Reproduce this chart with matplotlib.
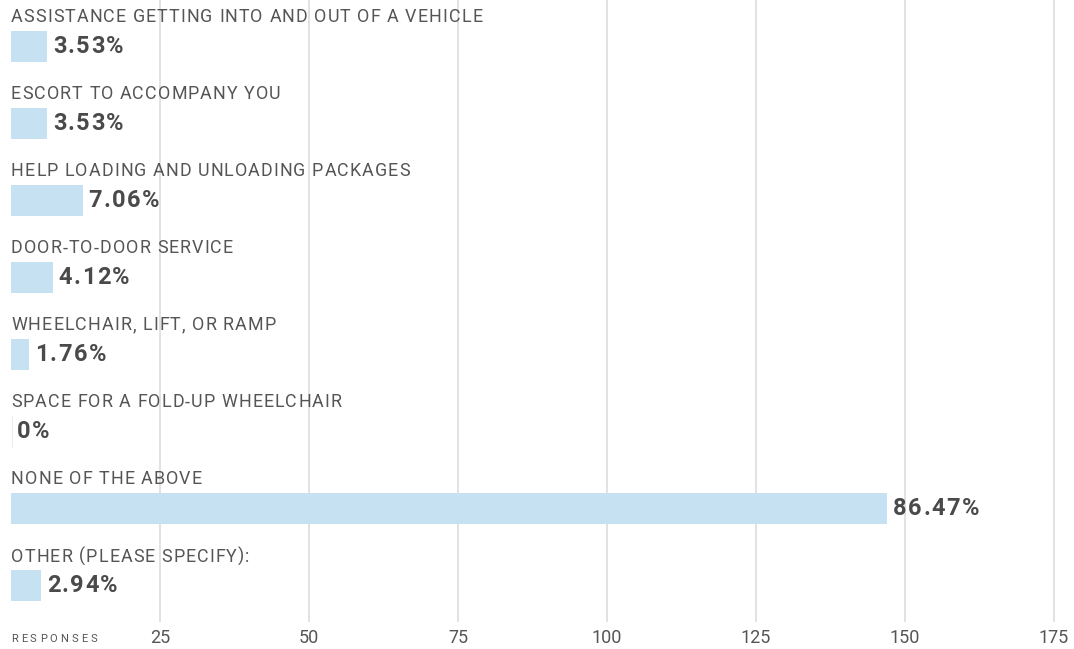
import matplotlib
matplotlib.use("Agg")
import matplotlib.pyplot as plt
from matplotlib.transforms import offset_copy

categories = [
    "ASSISTANCE GETTING INTO AND OUT OF A VEHICLE",
    "ESCORT TO ACCOMPANY YOU",
    "HELP LOADING AND UNLOADING PACKAGES",
    "DOOR-TO-DOOR SERVICE",
    "WHEELCHAIR, LIFT, OR RAMP",
    "SPACE FOR A FOLD-UP WHEELCHAIR",
    "NONE OF THE ABOVE",
    "OTHER (PLEASE SPECIFY):",
]
responses = [6, 6, 12, 7, 3, 0, 147, 5]
percent_labels = ["3.53%", "3.53%", "7.06%", "4.12%", "1.76%", "0%", "86.47%", "2.94%"]
xticks = [25, 50, 75, 100, 125, 150, 175]

W, H, DPI = 1074, 649, 100
fig = plt.figure(figsize=(W / DPI, H / DPI), dpi=DPI)
ax = fig.add_axes([11 / W, 1 - 622 / H, (W - 11) / W, 622 / H])

font = "Roboto"
bar_color = "#c6e1f2"
text_color = "#555555"
val_color = "#4a4a4a"

ax.barh(range(len(categories)), responses, height=0.40, color=bar_color, zorder=2)
ax.set_xlim(0, (W - 11) / 5.96)
ax.set_ylim(7.47, -0.604)

for x in xticks:
    ax.axvline(x, color="#dddddd", lw=1.2, zorder=1)

ax.set_xticks([])
ax.set_yticks([])
for s in ax.spines.values():
    s.set_visible(False)

fig.canvas.draw()
renderer = fig.canvas.get_renderer()


def tracked_text(x, y, s, transform, tracking_px, start_px=0.0, **kw):
    """Draw string with extra letter spacing (in pixels)."""
    off = start_px
    for ch in s:
        tr = offset_copy(transform, fig=fig, x=off * 72 / DPI, y=0, units="points")
        t = ax.text(x, y, ch, transform=tr, ha="left", **kw)
        if ch == " ":
            t2 = ax.text(0, 0, "a a", fontsize=kw.get("fontsize"), family=kw.get("family"))
            t3 = ax.text(0, 0, "aa", fontsize=kw.get("fontsize"), family=kw.get("family"))
            w = t2.get_window_extent(renderer).width - t3.get_window_extent(renderer).width
            t2.remove(); t3.remove()
        else:
            w = t.get_window_extent(renderer).width
        off += w + tracking_px


for i, (cat, v, lab) in enumerate(zip(categories, responses, percent_labels)):
    tracked_text(0, i - 0.38, cat, ax.transData, 1.1, fontsize=12.9, family=font,
                 color=text_color, va="center", clip_on=False)
    if v == 0:
        ax.plot([0.15, 0.15], [i - 0.2, i + 0.2], color="#e6f0f5", lw=1, zorder=2)
    tracked_text(v, i, lab, ax.transData, 1.5, start_px=6, fontsize=17, fontweight="bold",
                 family=font, color=val_color, va="center")

for x in xticks:
    ax.text(x, 7.47, str(x), fontsize=13, family=font,
            color=text_color, ha="center", va="center",
            clip_on=False).set_transform(
        offset_copy(ax.transData, fig=fig, x=0, y=-16 * 72 / DPI, units="points"))

tracked_text(0, 7.47, "RESPONSES", offset_copy(ax.transData, fig=fig, x=0, y=-17 * 72 / DPI, units="points"),
             3.0, fontsize=8, family=font, color=text_color, va="center", clip_on=False)

fig.savefig("out.png", dpi=DPI)
